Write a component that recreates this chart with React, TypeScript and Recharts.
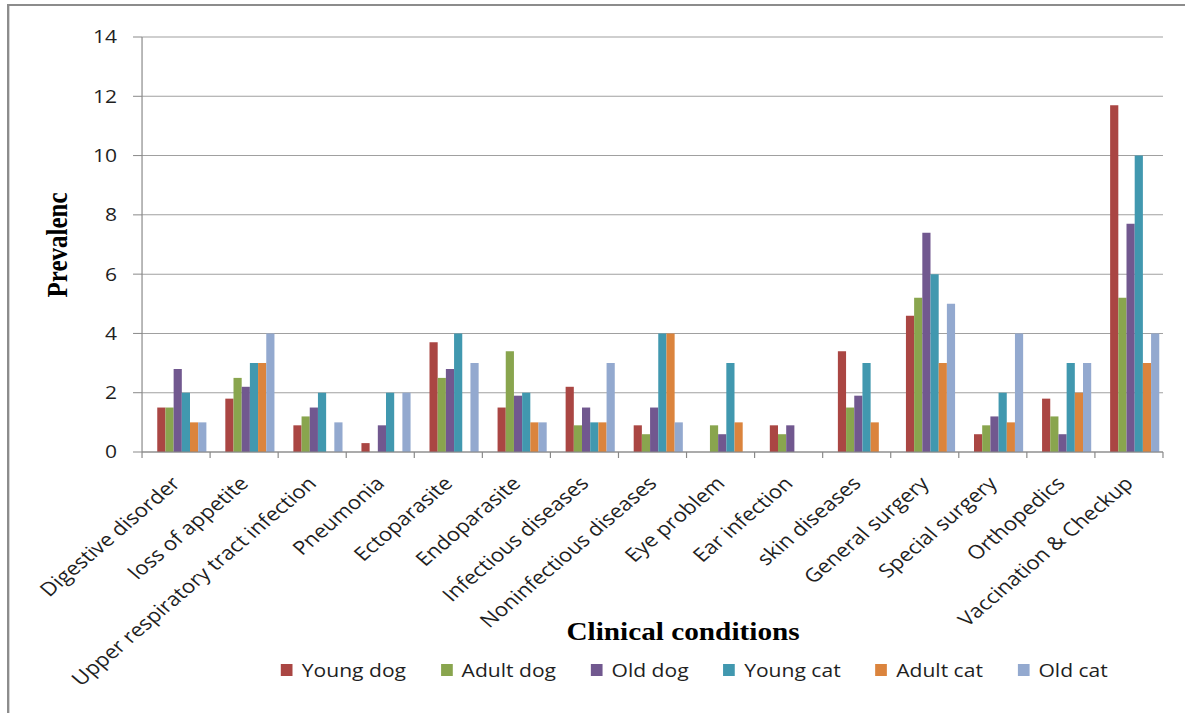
import { Bar, BarChart, CartesianGrid, XAxis, YAxis } from "recharts";

// Clinical conditions (x categories)
const categories = [
  "Digestive disorder",
  "loss of appetite",
  "Upper respiratory tract infection",
  "Pneumonia",
  "Ectoparasite",
  "Endoparasite",
  "Infectious diseases",
  "Noninfectious diseases",
  "Eye problem",
  "Ear infection",
  "skin diseases",
  "General surgery",
  "Special surgery",
  "Orthopedics",
  "Vaccination & Checkup",
];

// Prevalence per group
const youngDog = [1.5, 1.8, 0.9, 0.3, 3.7, 1.5, 2.2, 0.9, 0, 0.9, 3.4, 4.6, 0.6, 1.8, 11.7];
const adultDog = [1.5, 2.5, 1.2, 0, 2.5, 3.4, 0.9, 0.6, 0.9, 0.6, 1.5, 5.2, 0.9, 1.2, 5.2];
const oldDog = [2.8, 2.2, 1.5, 0.9, 2.8, 1.9, 1.5, 1.5, 0.6, 0.9, 1.9, 7.4, 1.2, 0.6, 7.7];
const youngCat = [2, 3, 2, 2, 4, 2, 1, 4, 3, 0, 3, 6, 2, 3, 10];
const adultCat = [1, 3, 0, 0, 0, 1, 1, 4, 1, 0, 1, 3, 1, 2, 3];
const oldCat = [1, 4, 1, 2, 3, 1, 3, 1, 0, 0, 0, 5, 4, 3, 4];

const seriesNames = ["Young dog", "Adult dog", "Old dog", "Young cat", "Adult cat", "Old cat"];
const seriesKeys = ["youngDog", "adultDog", "oldDog", "youngCat", "adultCat", "oldCat"];
const seriesColors = ["#AA4643", "#89A54E", "#71588F", "#4198AF", "#DB843D", "#93A9CF"];

const yTicks = [0, 2, 4, 6, 8, 10, 12, 14];

// the reference is stretched sideways, so draw narrow and widen it
const STRETCH = 1.17;
const W = 1013;
const H = 713;
const FONT = "'Open Sans', 'Noto Sans', sans-serif";
const SERIF = "'Liberation Serif', 'DejaVu Serif', serif";

const data = categories.map((name, i) => ({
  name,
  youngDog: youngDog[i],
  adultDog: adultDog[i],
  oldDog: oldDog[i],
  youngCat: youngCat[i],
  adultCat: adultCat[i],
  oldCat: oldCat[i],
}));

function CategoryTick(props: any) {
  const { x, y, payload } = props;
  const half = payload?.offset || 29;
  const isLast = payload?.value === categories[categories.length - 1];
  return (
    <g>
      <line x1={x - half} y1={y} x2={x - half} y2={y + 6} stroke="#888" />
      {isLast && <line x1={x + half} y1={y} x2={x + half} y2={y + 6} stroke="#888" />}
      <text
        transform={`translate(${x - 5},${y + 23}) rotate(-45)`}
        textAnchor="end"
        dy="0.72em"
        fontSize={19}
        fontFamily={FONT}
        fill="#1f1f1f"
      >
        {payload.value}
      </text>
    </g>
  );
}

function ValueTick(props: any) {
  const { x, y, payload } = props;
  return (
    <text x={x} y={y} dy="0.36em" textAnchor="end" fontSize={18} fontFamily={FONT} fill="#1f1f1f">
      {payload.value}
    </text>
  );
}

export default function App() {
  return (
    <div style={{ position: "relative", width: 1185, height: H, overflow: "hidden", background: "#fff" }}>
      <style>{`body{margin:0}`}</style>
      <div
        style={{
          position: "absolute",
          left: 0,
          top: 0,
          width: W,
          height: H,
          transform: `scaleX(${STRETCH})`,
          transformOrigin: "0 0",
        }}
      >
        <div
          style={{
            position: "absolute",
            left: 6,
            top: 4,
            width: W,
            height: H,
            borderLeft: "2px solid #8c8c8c",
            borderTop: "2px solid #8c8c8c",
          }}
        />
        <BarChart
          width={W}
          height={H}
          data={data}
          margin={{ top: 37, right: 19, bottom: 0, left: 0 }}
          barCategoryGap={6}
          barGap={0}
        >
          <CartesianGrid vertical={false} stroke="#a0a0a0" />
          <XAxis
            dataKey="name"
            interval={0}
            height={261}
            tickSize={0}
            tickMargin={0}
            tickLine={false}
            axisLine={{ stroke: "#888" }}
            tick={<CategoryTick />}
          />
          <YAxis
            width={121.4}
            domain={[0, 14]}
            ticks={yTicks}
            tickSize={7.7}
            tickMargin={13.7}
            axisLine={{ stroke: "#888" }}
            tickLine={{ stroke: "#888" }}
            tick={<ValueTick />}
          />
          {/* empty first slot, as in the source workbook */}
          <Bar dataKey="blank" fill="none" legendType="none" isAnimationActive={false} />
          {seriesKeys.map((key, i) => (
            <Bar
              key={key}
              dataKey={key}
              name={seriesNames[i]}
              fill={seriesColors[i]}
              isAnimationActive={false}
            />
          ))}
        </BarChart>

        <div
          style={{
            position: "absolute",
            left: 48.7,
            top: 245,
            transform: "translate(-50%, -50%) rotate(-90deg)",
            fontFamily: SERIF,
            fontWeight: "bold",
            fontSize: 25,
            whiteSpace: "nowrap",
            color: "#000",
          }}
        >
          Prevalenc
        </div>
        <div
          style={{
            position: "absolute",
            left: 583.8,
            top: 632,
            transform: "translate(-50%, -50%)",
            fontFamily: SERIF,
            fontWeight: "bold",
            fontSize: 25,
            whiteSpace: "nowrap",
            color: "#000",
          }}
        >
          Clinical conditions
        </div>

        <div
          style={{
            position: "absolute",
            left: 240,
            top: 658,
            display: "flex",
            alignItems: "center",
            gap: 29.5,
            fontFamily: FONT,
            fontSize: 18,
            color: "#1f1f1f",
            whiteSpace: "nowrap",
          }}
        >
          {seriesNames.map((name, i) => (
            <div key={name} style={{ display: "flex", alignItems: "center" }}>
              <span
                style={{
                  display: "inline-block",
                  width: 10.3,
                  height: 12,
                  background: seriesColors[i],
                  marginRight: 7.7,
                }}
              />
              <span>{name}</span>
            </div>
          ))}
        </div>
      </div>
    </div>
  );
}
